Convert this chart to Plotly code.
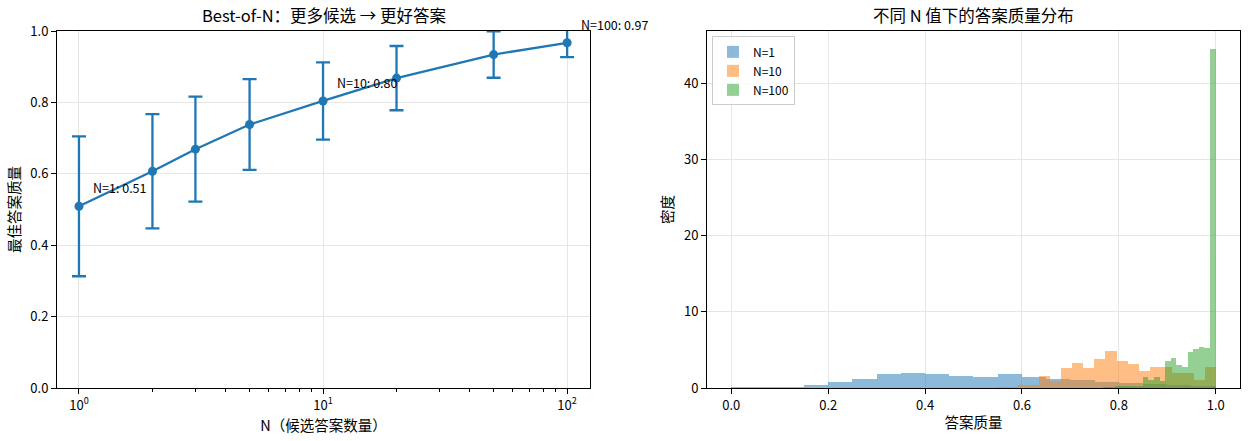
import numpy as np
import plotly.graph_objects as go

# ---- Left chart data ----
n_values = [1, 2, 3, 5, 10, 20, 50, 100]
best_mean = [0.509, 0.607, 0.669, 0.738, 0.804, 0.868, 0.934, 0.967]
best_std = [0.196, 0.160, 0.147, 0.127, 0.108, 0.090, 0.065, 0.040]
label_n = [1, 10, 100]
label_text = ["N=1: 0.51", "N=10: 0.80", "N=100: 0.97"]

# ---- Right chart data (density histograms, 20 bins each) ----
hist_names = ["N=1", "N=10", "N=100"]
hist_ranges = [(0.0, 1.0), (0.545, 1.0), (0.768, 1.0)]
dens_n1 = [0.10, 0.03, 0.10, 0.40, 0.80, 1.15, 1.80, 2.00, 1.90, 1.60,
           1.40, 1.80, 1.50, 1.15, 1.10, 0.85, 0.70, 0.50, 0.40, 0.30]
dens_n10 = [0.10, 0.10, 0.35, 0.35, 1.60, 0.90, 2.60, 3.30, 2.60, 3.80,
            4.80, 3.60, 3.10, 2.20, 2.80, 2.80, 2.00, 2.00, 1.05, 2.70]
dens_n100 = [0.10, 0.10, 0.20, 0.15, 0.20, 0.30, 0.25, 1.50, 1.00, 1.50,
             0.90, 3.50, 4.00, 3.00, 2.80, 4.70, 5.10, 5.40, 5.30, 44.6]
hist_dens = [dens_n1, dens_n10, dens_n100]
hist_colors = ["#1f77b4", "#ff7f0e", "#2ca02c"]

FONT = "Noto Sans CJK SC, Noto Sans, sans-serif"
GRID = "#e6e6e6"

fig = go.Figure()

fig.add_trace(go.Scatter(
    x=n_values, y=best_mean, mode="lines+markers",
    line=dict(color="#1f77b4", width=2.3),
    marker=dict(size=9, color="#1f77b4"),
    error_y=dict(type="data", array=best_std, visible=True,
                 color="#1f77b4", thickness=2.3, width=7),
    xaxis="x", yaxis="y", showlegend=False,
))

for name, rng, dens, col in zip(hist_names, hist_ranges, hist_dens, hist_colors):
    edges = np.linspace(rng[0], rng[1], len(dens) + 1)
    centers = (edges[:-1] + edges[1:]) / 2
    w = edges[1] - edges[0]
    fig.add_trace(go.Bar(
        x=centers, y=dens, width=w, name=name,
        marker=dict(color=col, line=dict(width=0)), opacity=0.5,
        xaxis="x2", yaxis="y2",
    ))

annotations = []
for n, t in zip(label_n, label_text):
    yv = best_mean[n_values.index(n)]
    annotations.append(dict(
        x=np.log10(n), y=yv, xref="x", yref="y", text=t, showarrow=False,
        xanchor="left", yanchor="bottom", xshift=12, yshift=7,
        font=dict(size=12.5, color="black", family=FONT),
    ))

annotations.append(dict(
    x=0.2253, y=1.0, xref="paper", yref="paper", yshift=16,
    text="Best-of-N：更多候选 → 更好答案", showarrow=False,
    xanchor="center", yanchor="middle",
    font=dict(size=16.5, color="black", family=FONT),
))
annotations.append(dict(
    x=0.7748, y=1.0, xref="paper", yref="paper", yshift=16,
    text="不同 N 值下的答案质量分布", showarrow=False,
    xanchor="center", yanchor="middle",
    font=dict(size=16.5, color="black", family=FONT),
))

axis_common = dict(
    showline=True, mirror=True, linecolor="black", linewidth=1,
    ticks="outside", ticklen=5, tickcolor="black",
    showgrid=True, gridcolor=GRID, gridwidth=1, zeroline=False,
    tickfont=dict(size=13, color="black", family=FONT),
)

minor_vals = [v * d for d in (1, 10) for v in range(2, 10)]

fig.update_layout(
    width=1251, height=441,
    margin=dict(l=57, r=11, t=31, b=53),
    paper_bgcolor="white", plot_bgcolor="white",
    font=dict(family=FONT, color="black"),
    barmode="overlay", bargap=0,
    annotations=annotations,
    xaxis=dict(
        axis_common, domain=[0.0, 0.4506], type="log", range=[-0.09, 2.094],
        tickvals=[1, 10, 100],
        ticktext=["10<sup>0</sup>", "10<sup>1</sup>", "10<sup>2</sup>"],
        minor=dict(tickvals=minor_vals, ticks="outside", ticklen=3,
                   tickcolor="black", showgrid=False),
        title=dict(text="N（候选答案数量）", font=dict(size=14.5, family=FONT), standoff=5),
        anchor="y",
    ),
    yaxis=dict(
        axis_common, domain=[0, 1], range=[0, 1.0], dtick=0.2, tickformat=".1f",
        title=dict(text="最佳答案质量", font=dict(size=14.5, family=FONT), standoff=6),
        anchor="x",
    ),
    xaxis2=dict(
        axis_common, domain=[0.5495, 1.0], range=[-0.05, 1.05], dtick=0.2,
        tickformat=".1f",
        title=dict(text="答案质量", font=dict(size=14.5, family=FONT), standoff=5),
        anchor="y2",
    ),
    yaxis2=dict(
        axis_common, domain=[0, 1], range=[0, 46.9], dtick=10,
        title=dict(text="密度", font=dict(size=14.5, family=FONT), standoff=6),
        anchor="x2",
    ),
    legend=dict(
        x=0.5537, y=0.985, xanchor="left", yanchor="top",
        bgcolor="rgba(255,255,255,0.8)", bordercolor="#cccccc", borderwidth=1,
        font=dict(size=12, family=FONT), tracegroupgap=0, itemwidth=30,
    ),
)

fig.write_html("out.html")
